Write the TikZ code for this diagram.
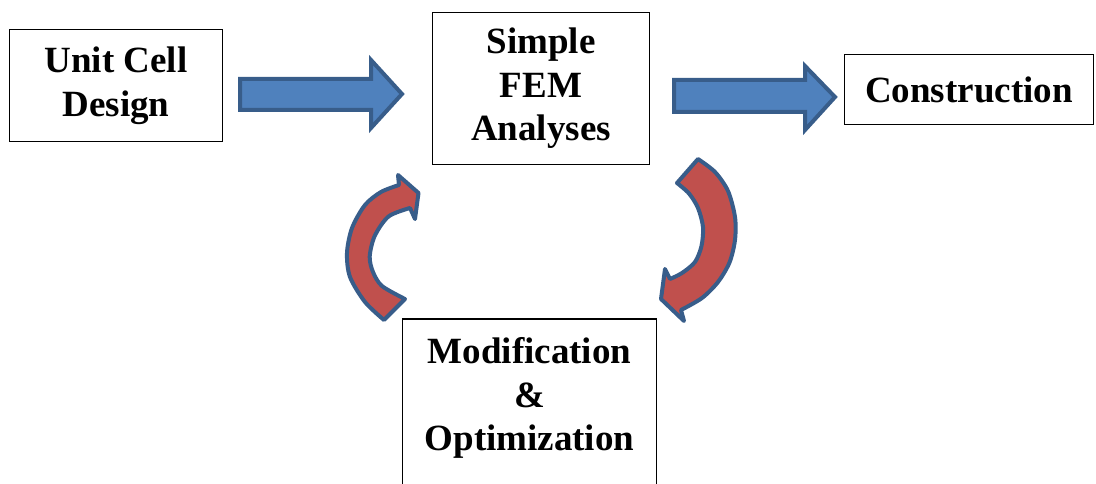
\documentclass[tikz,border=0pt]{standalone}
\usepackage{fontspec}
\setmainfont{Liberation Serif}
\definecolor{shapeblue}{HTML}{4F81BD}
\definecolor{shapeedge}{HTML}{385D8A}
\definecolor{shapered}{HTML}{C0504D}
\begin{document}
\begin{tikzpicture}[x=1pt,y=-1pt,
  box/.style={draw=black, line width=1.5pt, fill=white, inner sep=0pt,
    align=center, font=\bfseries\fontsize{37}{43.5}\selectfont},
  boxtext/.style={inner sep=0pt, align=center,
    font=\bfseries\fontsize{37}{43.5}\selectfont},
  blockarrow/.style={fill=shapeblue, draw=shapeedge, line width=4pt, line join=miter},
  bendarrow/.style={fill=shapered, draw=shapeedge, line width=4pt, line join=round}]
\useasboundingbox (0,0) rectangle (1096,484);
\clip (0,0) rectangle (1096,484);

% process boxes
\node[box, minimum width=213pt, minimum height=112pt] (unit) at (116,85.5) {Unit Cell\\Design};
\node[box, minimum width=217pt, minimum height=152pt] (fem) at (541,88.5) {Simple\\FEM\\Analyses};
\node[box, minimum width=249pt, minimum height=70pt] (cons) at (969,89.5) {Construction};
\node[box, minimum width=254pt, minimum height=200pt, anchor=north] (mod) at (529.5,318) {};
\node[boxtext] (modtext) at (529.5,398) {Modification\\\&\\Optimization};

% straight block arrows
\draw[blockarrow] (240,79) -- (371,79) -- (371,60) -- (402,94) -- (371,128)
  -- (371,110) -- (240,110) -- cycle;
\draw[blockarrow] (674,80) -- (805,80) -- (805,66) -- (835,97) -- (805,130)
  -- (805,112) -- (674,112) -- cycle;

% curved arrow from the modification box back up to the analyses
\draw[bendarrow] (384,320) -- (405,299)
  -- plot[smooth] coordinates {(405,299) (382,286) (373,272) (369.7,256.7)
     (374.7,236) (388.5,216.5) (410,208)}
  -- (415,219) -- (418.5,193) -- (398,175) -- (399,185)
  -- plot[smooth] coordinates {(399,185) (381,192) (365,205) (352,228)
     (347,253) (350,277) (365,302) (384,320)}
  -- cycle;

% curved arrow from the analyses down to the modification box
\draw[bendarrow] (698,159) -- (677,183)
  -- plot[smooth] coordinates {(677,183) (689,193.5) (698,208) (703,227)
     (701.5,246) (695,262) (682,273) (670,279)}
  -- (665,269) -- (661,299) -- (684,321) -- (681,310)
  -- plot[smooth] coordinates {(681,310) (702,298) (718,282) (729.5,262.5)
     (735,240) (735,217) (728,191) (715,172) (698,159)}
  -- cycle;
\end{tikzpicture}
\end{document}
